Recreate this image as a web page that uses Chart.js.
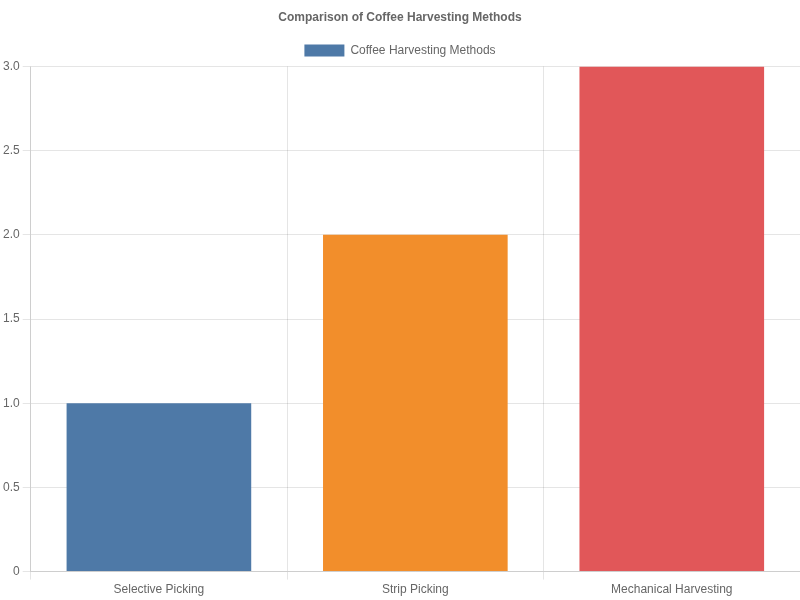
<!DOCTYPE html>
<html>
<head>
<meta charset="utf-8">
<script src="https://cdn.jsdelivr.net/npm/chart.js@4/dist/chart.umd.min.js"></script>
<style>
  html, body { margin: 0; padding: 0; background: #fff; }
  #wrap { width: 800px; height: 600px; }
</style>
</head>
<body>
<div id="wrap"><canvas id="harvestChart"></canvas></div>
<script>
// Chart data
const methods = ['Selective Picking', 'Strip Picking', 'Mechanical Harvesting'];
const values = [1, 2, 3];
const barColors = ['#4e79a7', '#f28e2b', '#e15759'];

Chart.defaults.font.family = '"Liberation Sans", Arial, sans-serif';
Chart.defaults.color = '#666';

new Chart(document.getElementById('harvestChart'), {
    type: 'bar',
    data: {
        labels: methods,
        datasets: [{
            label: 'Coffee Harvesting Methods',
            data: values,
            backgroundColor: barColors,
            borderWidth: 0
        }]
    },
    options: {
        responsive: true,
        maintainAspectRatio: false,
        animation: false,
        plugins: {
            title: { display: true, text: 'Comparison of Coffee Harvesting Methods', font: { size: 12, weight: 'bold' } },
            legend: { display: true, position: 'top' }
        },
        scales: {
            y: { beginAtZero: true, max: 3, ticks: { stepSize: 0.5 } },
            x: {}
        }
    }
});
</script>
</body>
</html>
